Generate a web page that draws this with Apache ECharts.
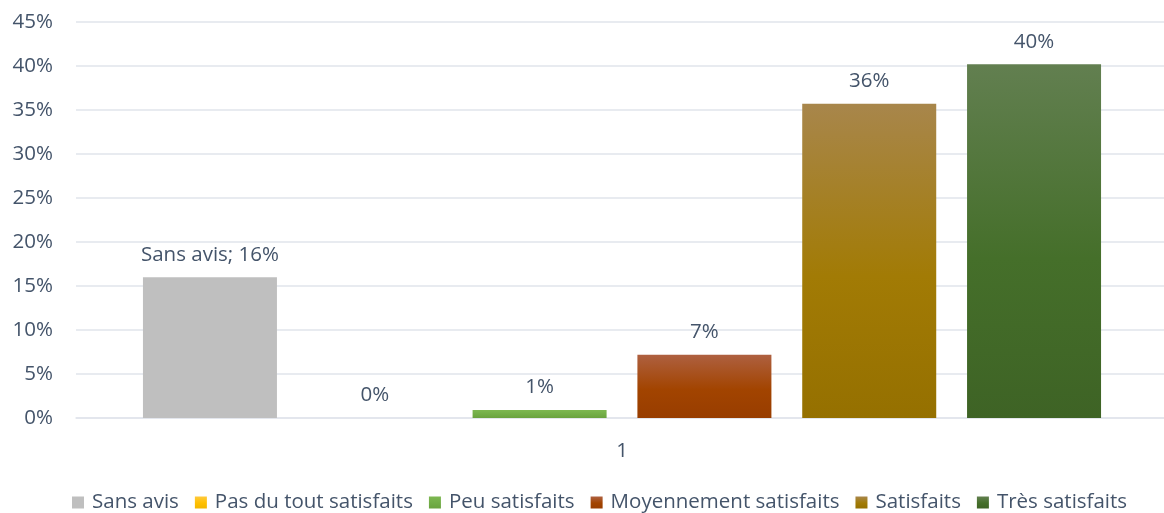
<!DOCTYPE html>
<html>
<head>
<meta charset="utf-8">
<title>Satisfaction</title>
<script src="https://cdn.jsdelivr.net/npm/echarts@6/dist/echarts.min.js"></script>
<style>
	html, body { margin: 0; padding: 0; background: #ffffff; }
	#chart { width: 1164px; height: 513px; }
</style>
</head>
<body>
<div id="chart"></div>
<script>
// données (en %)
var categories = ['1'];
var seriesNames = ['Sans avis', 'Pas du tout satisfaits', 'Peu satisfaits', 'Moyennement satisfaits', 'Satisfaits', 'Très satisfaits'];
var seriesValues = [16.0, 0, 0.9, 7.2, 35.7, 40.2];
var yTicks = [0, 5, 10, 15, 20, 25, 30, 35, 40, 45];

// dégradés façon Excel (haut clair -> bas foncé)
var gradients = [
	['#BFBFBF', '#BFBFBF', '#BFBFBF'],
	['#FFC93C', '#FFC000', '#F2B600'],
	['#7DB751', '#72AD47', '#6AA23F'],
	['#AE6040', '#A24400', '#983D00'],
	['#A8864B', '#A27B05', '#957000'],
	['#627F50', '#456F2A', '#3E6325']
];
var textColor = '#44546A';
var fontFamily = 'Open Sans';
var fontSize = 20.5;

function grad(c) {
	return {
		type: 'linear', x: 0, y: 0, x2: 0, y2: 1,
		colorStops: [{offset: 0, color: c[0]}, {offset: 0.55, color: c[1]}, {offset: 1, color: c[2]}]
	};
}

var series = [];
for (var i = 0; i < seriesNames.length; i++) {
	series.push({
		name: seriesNames[i],
		type: 'bar',
		barWidth: 134,
		barGap: '23%',
		data: [seriesValues[i]],
		itemStyle: { color: grad(gradients[i]) },
		label: {
			show: true,
			position: 'top',
			distance: 12,
			color: textColor,
			fontFamily: fontFamily,
			fontSize: fontSize,
			formatter: (function(idx) {
				return function(p) {
					var v = Math.round(p.value) + '%';
					return idx === 0 ? p.seriesName + '; ' + v : v;
				};
			})(i)
		}
	});
}

var myChart = echarts.init(document.getElementById('chart'));
myChart.setOption({
	animation: false,
	grid: { left: 76, width: 1092, top: 22, bottom: 95, outerBoundsMode: 'none' },
	legend: {
		top: 487,
		left: 67,
		itemWidth: 12,
		itemHeight: 12,
		itemGap: 16,
		icon: 'rect',
		textStyle: { color: textColor, fontFamily: fontFamily, fontSize: fontSize, padding: [0, 0, 0, 3] },
		data: seriesNames
	},
	xAxis: {
		type: 'category',
		data: categories,
		axisLine: { lineStyle: { color: '#E1E5EB', width: 1.5 } },
		axisTick: { show: false },
		axisLabel: { color: textColor, fontFamily: fontFamily, fontSize: fontSize, margin: 23 }
	},
	yAxis: {
		type: 'value',
		min: yTicks[0],
		max: yTicks[yTicks.length - 1],
		interval: 5,
		axisLine: { show: false },
		axisTick: { show: false },
		splitLine: { lineStyle: { color: '#E1E5EB', width: 1.5 } },
		axisLabel: {
			color: textColor, fontFamily: fontFamily, fontSize: fontSize, margin: 23,
			formatter: function(v) { return v + '%'; }
		}
	},
	series: series
});
window.onresize = function() {
	myChart.resize();
};
</script>
</body>
</html>
